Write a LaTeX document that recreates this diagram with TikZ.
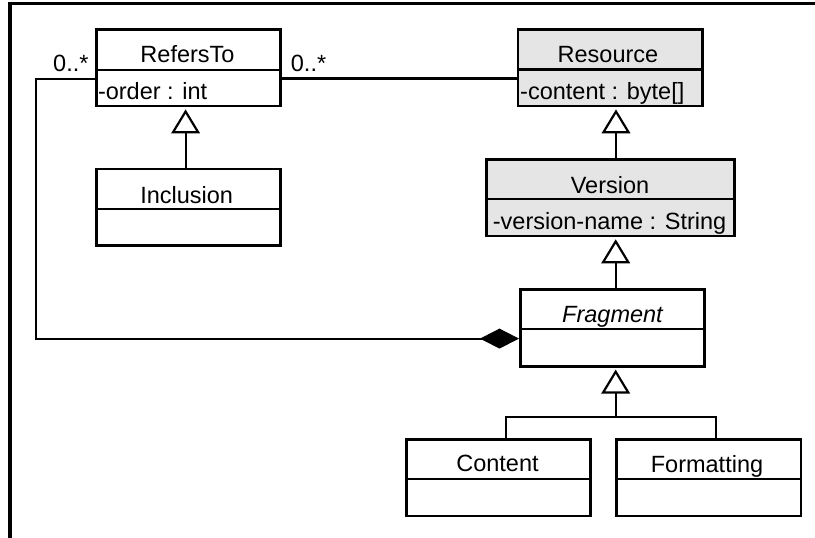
\documentclass[tikz,border=0pt]{standalone}
\usepackage{fontspec}
\setmainfont{Liberation Sans}
\usetikzlibrary{arrows.meta,calc}
\begin{document}
\begin{tikzpicture}[x=1pt,y=-1pt,line join=miter,
  classbox/.style={draw,line width=2.6pt,inner sep=0pt,minimum width=184.4pt,minimum height=76.5pt},
  shaded/.style={fill=gray!20},
  divider/.style={line width=2.2pt},
  conn/.style={line width=2.2pt},
  gen/.style={conn,-{Triangle[open,length=24pt,width=28.5pt,line width=2.2pt]},shorten >=2pt},
  comp/.style={conn,-{Diamond[length=39pt,width=20pt,line width=2pt,fill=black]}},
  txt/.style={inner sep=0pt,font=\fontsize{23.5}{28}\selectfont},
  frameline/.style={line width=3.6pt}]
\useasboundingbox (0,0) rectangle (815,538);

% frame
\draw[frameline] (10,542) -- (10,3.6) -- (819,3.6);

% classes
\node[classbox] (refers) at (188.4,67.8) {};
\node[classbox] (inclusion) at (188.4,207.4) {};
\node[classbox,shaded] (resource) at (610.3,67.8) {};
\node[classbox,shaded,minimum width=248.4pt] (version) at (610.5,197.7) {};
\node[classbox] (fragment) at (612.5,328) {};
\node[classbox] (content) at (498.5,477.9) {};
\node[classbox] (formatting) at (708.8,477.9) {};

% dividers
\draw[divider] (refers.west |- 0,70) -- (refers.east |- 0,70);
\draw[divider] (inclusion.west |- 0,209) -- (inclusion.east |- 0,209);
\draw[divider] (resource.west |- 0,69.5) -- (resource.east |- 0,69.5);
\draw[divider] (version.west |- 0,199) -- (version.east |- 0,199);
\draw[divider] (fragment.west |- 0,329) -- (fragment.east |- 0,329);
\draw[divider] (content.west |- 0,478.7) -- (content.east |- 0,478.7);
\draw[divider] (formatting.west |- 0,478.7) -- (formatting.east |- 0,478.7);

% texts
\node[txt,anchor=base] (refersname) at (187.5,63) {RefersTo};
\node[txt,anchor=base west] (refersattr) at (97.8,99) {-order : int};
\node[txt,anchor=base] (inclusionname) at (186.7,203) {Inclusion};
\node[txt,anchor=base] (resourcename) at (608,62.7) {Resource};
\node[txt,anchor=base west] (resourceattr) at (520,99.5) {-content : byte[]};
\node[txt,anchor=base] (versionname) at (610,193) {Version};
\node[txt,anchor=base west] (versionattr) at (492.7,229) {-version-name : String};
\node[txt,anchor=base,font=\fontsize{23.5}{28}\selectfont\itshape] (fragmentname) at (612.5,322.7) {Fragment};
\node[txt,anchor=base] (contentname) at (497.5,471.8) {Content};
\node[txt,anchor=base] (formattingname) at (707,472) {Formatting};

% multiplicities
\node[txt,anchor=base west] (multleft) at (53,71.5) {0..*};
\node[txt,anchor=base west] (multright) at (290.7,71.5) {0..*};

% association RefersTo -- Resource
\draw[conn] (refers.east |- 0,78.5) -- (resource.west |- 0,78.5);

% composition RefersTo -- Fragment
\coordinate (bendA) at (35.6,79);
\coordinate (bendB) at (35.6,338.6);
\draw[comp] (refers.west |- bendA) -- (bendA) -- (bendB) -- (fragment.west |- bendB);

% generalizations
\draw[gen] (inclusion.north -| 185.6,0) -- (refers.south -| 185.6,0);
\draw[gen] (version.north -| 616,0) -- (resource.south -| 616,0);
\draw[gen] (fragment.north -| 615.7,0) -- (version.south -| 615.7,0);
\coordinate (join) at (615.7,416.7);
\draw[conn] (content.north -| 505.6,0) |- (join);
\draw[conn] (formatting.north -| 715.7,0) |- (join);
\draw[gen] (join) -- (fragment.south -| join);
\end{tikzpicture}
\end{document}
